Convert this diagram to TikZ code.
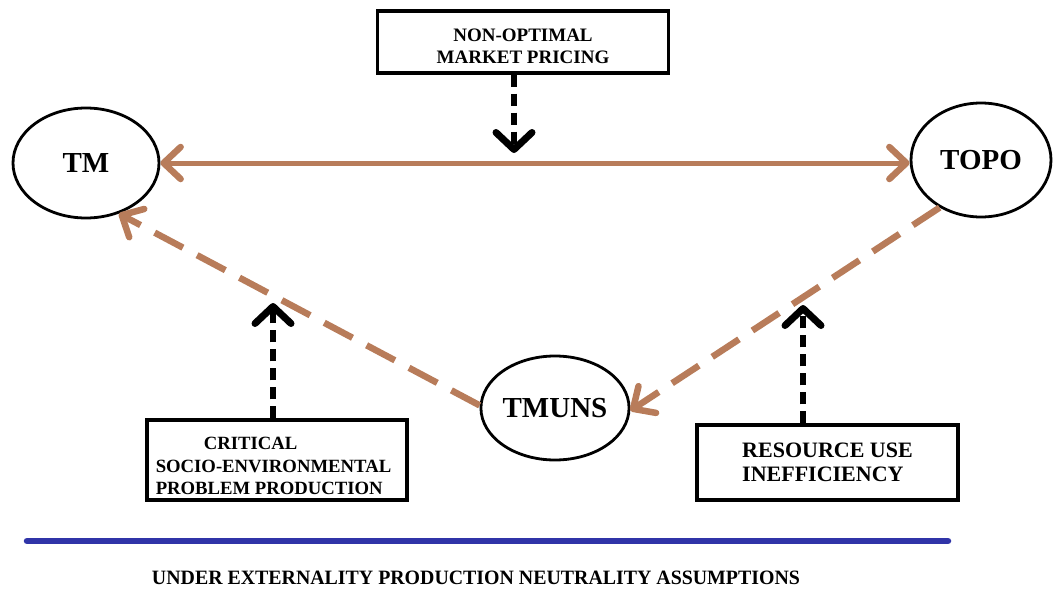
\documentclass[tikz,border=0pt]{standalone}
\usepackage{fontspec}
\setmainfont{Liberation Serif}
\usetikzlibrary{arrows.meta,shapes.geometric}
\definecolor{brownline}{RGB}{184,124,90}
\definecolor{blueline}{RGB}{48,52,168}
\newcommand{\boxtext}[3]{\raisebox{#1}[0pt][0pt]{\begin{tabular}{@{}#2@{}}#3\end{tabular}}}
\tikzset{
  oval/.style={ellipse,draw,line width=2.8pt,inner sep=0pt,font=\bfseries\fontsize{29pt}{31pt}\selectfont},
  labelbox/.style={draw,line width=3.2pt,inner sep=0pt,font=\bfseries\fontsize{19pt}{21pt}\selectfont},
  brownarrow/.style={draw=brownline,line width=5pt,-{Straight Barb[length=17pt,width=32pt,line width=6.5pt,round]}},
  browndash/.style={brownarrow,line width=6.5pt,dash pattern=on 32pt off 16pt},
  blackdash/.style={draw=black,line width=6.5pt,dash pattern=on 12pt off 7pt,-{Straight Barb[length=17pt,width=36pt,line width=7pt,round]}},
}
\begin{document}
\begin{tikzpicture}[x=1pt,y=-1pt]
\useasboundingbox (0,0) rectangle (1053,592);
% ellipses
\node[oval,minimum width=146pt,minimum height=110pt] (tm) at (86,163) {TM};
\node[oval,minimum width=140pt,minimum height=114pt] (topo) at (981,160) {TOPO};
\node[oval,minimum width=144pt,minimum height=104pt] (tmuns) at (555,408) {TMUNS};
% boxes
\node[labelbox,minimum width=291pt,minimum height=62pt] (top) at (523,42)
  {\renewcommand{\arraystretch}{1.05}\boxtext{-10pt}{c}{NON-OPTIMAL\\MARKET PRICING}};
\node[labelbox,minimum width=260pt,minimum height=80pt,font=\bfseries\fontsize{18.7pt}{22.5pt}\selectfont] (crit) at (277,460)
  {\renewcommand{\arraystretch}{1.0}\boxtext{-12pt}{l}{\hspace*{48pt}CRITICAL\\SOCIO-ENVIRONMENTAL\\PROBLEM PRODUCTION}\hspace*{7pt}};
\node[labelbox,minimum width=261pt,minimum height=75pt,font=\bfseries\fontsize{22pt}{24pt}\selectfont] (res) at (827.5,462.5)
  {\renewcommand{\arraystretch}{1.0}\boxtext{-7pt}{l}{RESOURCE USE\\INEFFICIENCY}};
% brown connectors
\draw[brownline,line width=5pt,{Straight Barb[length=17pt,width=32pt,line width=6.5pt,round]}-{Straight Barb[length=17pt,width=32pt,line width=6.5pt,round]}] (tm.east) -- (tm.east -| topo.west);
\draw[browndash] (tmuns.178) -- (tm.-57);
\draw[browndash] (topo.-131) -- (tmuns.-2);
% black dashed arrows
\coordinate (t1) at (514,153);
\coordinate (t2) at (273,303);
\coordinate (t3) at (803,305);
\draw[blackdash] (top.south -| t1) -- (t1);
\draw[blackdash] (crit.north -| t2) -- (t2);
\draw[blackdash] (res.north -| t3) -- (t3);
% baseline
\coordinate (bl) at (27,541);
\coordinate (br) at (948,541);
\draw[blueline,line width=6.5pt,line cap=round] (bl) -- (br);
\node[inner sep=0pt] (cap) at (476,578) {\resizebox{648pt}{13.5pt}{\bfseries UNDER EXTERNALITY PRODUCTION NEUTRALITY ASSUMPTIONS}};
\end{tikzpicture}
\end{document}
